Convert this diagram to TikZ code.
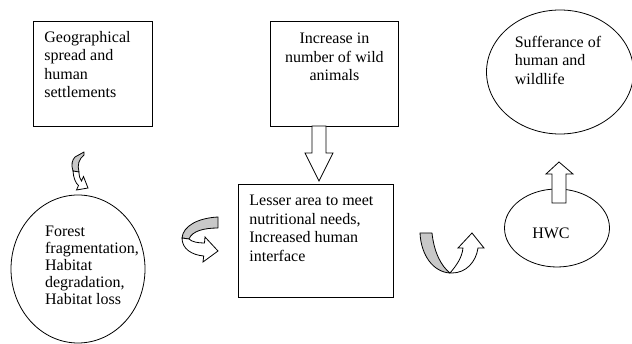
\documentclass[tikz,border=0pt]{standalone}
\usepackage{fontspec}
\setmainfont{Liberation Serif}
\usetikzlibrary{shapes.geometric}
\definecolor{ArrowGray}{RGB}{200,200,200}

\begin{document}
\begin{tikzpicture}[x=1pt, y=-1pt, line width=0.8pt,
    every node/.style={font=\fontsize{16}{18.5}\selectfont},
    box/.style={draw, anchor=north west, inner sep=0pt},
    ring/.style={draw, ellipse, inner sep=0pt},
    backside/.style={draw, fill=ArrowGray, line join=round},
    frontside/.style={draw, fill=white, line join=miter}]
    \useasboundingbox (0,0) rectangle (632,344);

    % Boxes
    \node[box, minimum width=119pt, minimum height=105pt] (geo) at (33,21)
        {\parbox[c][85pt][t]{97pt}{Geographical\\spread and\\human\\settlements}};
    \node[box, minimum width=128pt, minimum height=105pt] (wild) at (270,21)
        {\parbox[c][81pt][t]{108pt}{\centering Increase in\\number of wild\\animals}};
    \node[box, minimum width=155pt, minimum height=113pt] (lesser) at (238,184)
        {\parbox[c][91pt][t]{133pt}{Lesser area to meet\\nutritional needs,\\Increased human\\interface}};

    % Ellipses
    \node[ring, minimum width=134pt, minimum height=148pt] (forest) at (78,269) {};
    \node[align=left, inner sep=0pt, font=\fontsize{16}{17}\selectfont] (forestlbl) at (92,265)
        {Forest\\fragmentation,\\Habitat\\degradation,\\Habitat loss};
    \node[ring, minimum width=147pt, minimum height=124pt] (suffer) at (560,72) {};
    \node[align=left, inner sep=0pt] (sufferlbl) at (558,60)
        {Sufferance of\\human and\\wildlife};
    \node[ring, minimum width=105pt, minimum height=78pt] (hwc) at (557,228) {};
    \node[inner sep=0pt] (hwclbl) at (551,233) {HWC};

    % Straight block arrows
    \draw[frontside] (312,126) -- (312,153) -- (305,153) -- (319,181)
        -- (333,153) -- (326,153) -- (326,126) -- cycle;
    \draw[frontside] (552,203) -- (552,174) -- (546,174) -- (559,162)
        -- (573,174) -- (566,174) -- (566,203) -- cycle;

    % Curved arrow under geo
    \draw[backside] (75,157) -- (84,152) -- (84,155) .. controls (79,159) and (77,165) .. (79,172)
        -- (73,171) .. controls (71,165) and (72,160) .. (75,157) -- cycle;
    \draw[frontside] (73,171) .. controls (73.5,178) and (75.5,183) .. (78.5,185.5)
        -- (76.5,190) -- (88,188) -- (83.5,176.5) -- (81.5,181)
        .. controls (80,179) and (79,176) .. (79,172) -- cycle;

    % Curved arrow between forest and lesser
    \draw[backside] (218,217) -- (218,228) .. controls (204,228) and (192,231) .. (189,239)
        -- (182,238) .. controls (183,226) and (198,218) .. (218,217) -- cycle;
    \draw[frontside] (182,238) .. controls (182,249) and (192,255) .. (203.7,256)
        -- (203,262) -- (218,251) -- (205,237) -- (204.5,243)
        .. controls (198,243) and (192,242) .. (189,239) -- cycle;

    % U-turn arrow between lesser and hwc
    \draw[backside] (420,233) -- (432,233) .. controls (434,252) and (441,266) .. (450,273)
        .. controls (433,272) and (421,255) .. (420,233) -- cycle;
    \draw[frontside] (450,273) .. controls (456,266) and (462,258) .. (463,248)
        -- (458,248) -- (472,233) -- (484,248) -- (478,248)
        .. controls (476,262) and (466,273) .. (452,273) -- cycle;
\end{tikzpicture}
\end{document}
